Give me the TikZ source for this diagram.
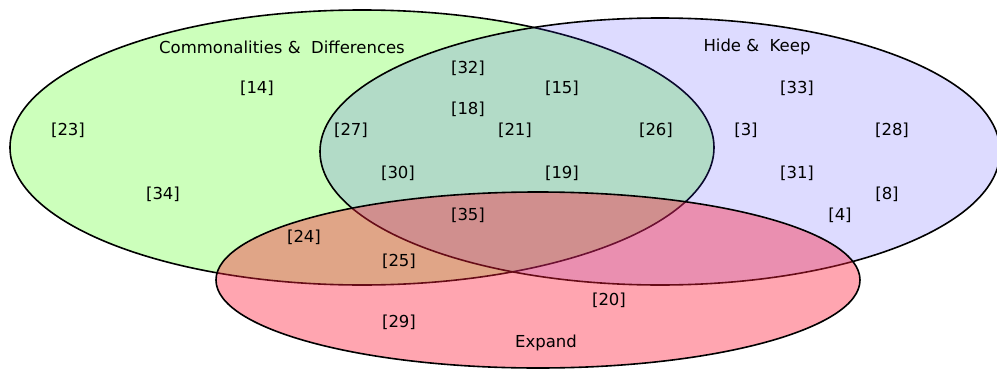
\documentclass[tikz,border=0pt]{standalone}
\usepackage{fontspec}
\setmainfont{DejaVu Sans}
\begin{document}
\begin{tikzpicture}[x=1pt,y=-1pt,
  lbl/.style={inner sep=0pt,font=\fontsize{16.5}{19}\selectfont},
  setline/.style={line width=1.6pt,draw=black}]
\definecolor{cgreen}{RGB}{204,255,187}
\definecolor{cblue}{RGB}{62,51,255}
\definecolor{cred}{RGB}{255,30,58}
\useasboundingbox (0,0) rectangle (997,370);
\begin{scope}
\clip (0,0) rectangle (997,370);
\path[setline,fill=cgreen] (362,147.5) ellipse [x radius=352, y radius=137.5];
\path[setline,fill=cblue,fill opacity=0.1765] (660,151.5) ellipse [x radius=340, y radius=133.5];
\path[setline,fill=cred,fill opacity=0.4] (538,280) ellipse [x radius=322, y radius=88];
\end{scope}
\node[lbl] (cd) at (282,47) {Commonalities \& \ Differences};
\node[lbl] (hk) at (757,47) {Hide \& \ Keep};
\node[lbl] (ex) at (546,343) {Expand};
\node[lbl] (n14) at (257,88) {[14]};
\node[lbl] (n23) at (68,130) {[23]};
\node[lbl] (n34) at (163,194) {[34]};
\node[lbl] (n32) at (468,68) {[32]};
\node[lbl] (n15) at (562,88) {[15]};
\node[lbl] (n18) at (468,109) {[18]};
\node[lbl] (n27) at (351,130) {[27]};
\node[lbl] (n21) at (515,130) {[21]};
\node[lbl] (n26) at (656,130) {[26]};
\node[lbl] (n30) at (398,173) {[30]};
\node[lbl] (n19) at (562,173) {[19]};
\node[lbl] (n33) at (797,88) {[33]};
\node[lbl] (n3) at (746,130) {[3]};
\node[lbl] (n28) at (892,130) {[28]};
\node[lbl] (n31) at (797,173) {[31]};
\node[lbl] (n8) at (887,194) {[8]};
\node[lbl] (n4) at (840,215) {[4]};
\node[lbl] (n35) at (468,215) {[35]};
\node[lbl] (n24) at (304,237) {[24]};
\node[lbl] (n25) at (399,261) {[25]};
\node[lbl] (n20) at (609,300) {[20]};
\node[lbl] (n29) at (399,322) {[29]};
\end{tikzpicture}
\end{document}
